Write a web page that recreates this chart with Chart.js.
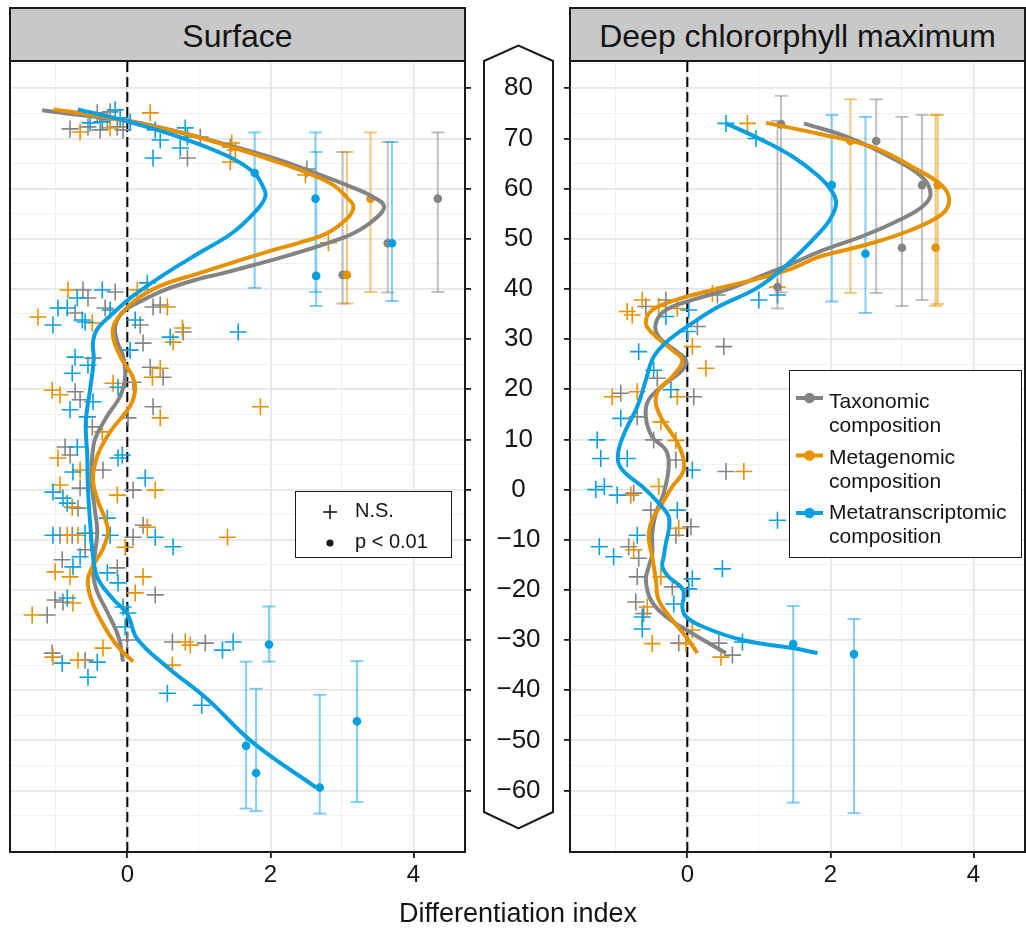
<!DOCTYPE html>
<html>
<head>
<meta charset="utf-8">
<title>Differentiation index</title>
<script src="https://cdn.jsdelivr.net/npm/chart.js@4.4.1/dist/chart.umd.min.js"></script>
<style>
html,body{margin:0;padding:0;background:#ffffff;}
#fig{position:relative;width:1026px;height:933px;overflow:hidden;font-family:"Liberation Sans",Arial,Helvetica,sans-serif;color:#141414;background:#fff;}
#fig canvas{position:absolute;left:0;top:0;z-index:2;}
#hex{position:absolute;left:0;top:0;z-index:1;}
.strip{position:absolute;top:7px;height:55px;box-sizing:border-box;border:2px solid #1a1a1a;background:#c8c8c8;font-size:32px;line-height:54px;text-align:center;z-index:3;white-space:nowrap;}
.lbox{position:absolute;box-sizing:border-box;border:1.5px solid #1a1a1a;background:#fff;z-index:3;}
#sym{position:absolute;left:0;top:0;z-index:4;}
.lt{position:absolute;z-index:5;white-space:nowrap;}
.lt20{font-size:20px;line-height:24px;}
.lt21{font-size:21px;line-height:24px;}
#xtitle{position:absolute;left:268px;width:500px;top:897px;font-size:27px;line-height:32px;text-align:center;z-index:5;}
</style>
</head>
<body>
<div id="fig">
  <svg id="hex" width="1026" height="933">
    <polygon points="484,61 518.5,45.5 553,61 553,812 518.5,828.5 484,812" fill="#fff" stroke="#1a1a1a" stroke-width="2"/>
  </svg>
  <canvas id="cL" width="1026" height="933"></canvas>
  <canvas id="cR" width="1026" height="933"></canvas>
  <div class="strip" style="left:9px;width:457px;">Surface</div>
  <div class="strip" style="left:569px;width:457px;">Deep chlororphyll maximum</div>
  <div class="lbox" style="left:295px;top:491px;width:157px;height:67px;"></div>
  <div class="lbox" style="left:789px;top:370px;width:233px;height:188px;"></div>
  <svg id="sym" width="1026" height="933"></svg>
  <div class="lt lt20" style="left:355px;top:498px;">N.S.</div>
  <div class="lt lt20" style="left:355px;top:529px;">p &lt; 0.01</div>
  <div class="lt lt21" style="left:829px;top:389px;">Taxonomic<br>composition</div>
  <div class="lt lt21" style="left:829px;top:444.5px;">Metagenomic<br>composition</div>
  <div class="lt lt21" style="left:829px;top:500px;">Metatranscriptomic<br>composition</div>
  <div id="xtitle">Differentiation index</div>
</div>
<script>
// ---------- styling constants ----------
const FONT = "'Liberation Sans', Arial, Helvetica, sans-serif";
const TEXT_COLOR = '#141414';
const COLORS = { tax: '#848484', metaG: '#E69100', metaT: '#079FE0' };
const BAR_COLORS = { tax: 'rgba(132,132,132,0.5)', metaG: 'rgba(230,145,0,0.5)', metaT: 'rgba(7,159,224,0.5)' };
const GRID_MAJOR = '#e6e6e6';
const GRID_MINOR = '#f0f0f0';

// ---------- axes ----------
const xLimits = [-1.64, 4.72];
const yLimits = [-72.25, 85.44];
const xTickValues = [-1, 0, 1, 2, 3, 4];
const xLabelValues = [0, 2, 4];
const yTickValues = [-65, -60, -55, -50, -45, -40, -35, -30, -25, -20, -15, -10, -5, 0, 5, 10, 15, 20, 25, 30, 35, 40, 45, 50, 55, 60, 65, 70, 75, 80, 85];
const yLabelValues = [80, 70, 60, 50, 40, 30, 20, 10, 0, -10, -20, -30, -40, -50, -60];
const zeroLineX = 0;

// ---------- Surface: smoothed curves [x, y] ----------
const surfaceTaxCurve = [[-1.19,75.6],[-0.5,74.4],[0,73.6],[0.8,71.0],[1.48,68.4],[2.1,65.8],[2.55,63.5],[3.1,60.5],[3.44,58.3],[3.59,56.4],[3.44,53.7],[3.16,51.1],[2.79,49.1],[2.3,46.9],[1.8,44.9],[1.3,43.0],[1.0,42.0],[0.56,40.0],[0.18,37.5],[-0.06,35.4],[-0.17,32.6],[-0.14,29.4],[-0.06,26.6],[-0.03,22.6],[-0.10,18.6],[-0.28,14.7],[-0.45,10.1],[-0.49,6.7],[-0.50,3.0],[-0.49,0.1],[-0.45,-4.5],[-0.42,-8.4],[-0.45,-12.4],[-0.48,-16.4],[-0.42,-20.4],[-0.28,-24.4],[-0.12,-29.5],[-0.06,-34.3]];
const surfaceMetaGCurve = [[-1.03,75.8],[-0.5,74.7],[0,73.4],[0.8,71.0],[1.48,68.2],[2.1,65.3],[2.52,63.1],[2.88,60.7],[3.07,58.2],[3.16,56.4],[3.07,54.0],[2.79,51.1],[2.4,49.2],[2.0,47.6],[1.5,45.4],[1.02,43.2],[0.46,40.6],[0.08,37.4],[-0.17,33.4],[-0.20,30.6],[-0.10,26.6],[0.07,22.6],[0.11,20.0],[0.04,16.7],[-0.24,11.5],[-0.42,6.7],[-0.48,2.1],[-0.42,-1.9],[-0.31,-5.9],[-0.27,-8.4],[-0.34,-11.8],[-0.48,-15.2],[-0.55,-17.8],[-0.52,-21.2],[-0.38,-25.8],[-0.14,-31.2],[0.08,-34.3]];
const surfaceMetaTCurve = [[-0.69,75.8],[0,73.4],[0.70,70.4],[1.40,66.5],[1.76,63.3],[1.90,60.3],[1.93,58.5],[1.82,55.9],[1.48,51.3],[1.02,47.3],[0.56,43.3],[0.08,38.6],[-0.24,34.6],[-0.42,32.0],[-0.48,29.4],[-0.47,26.0],[-0.52,20.0],[-0.58,13.5],[-0.56,6.7],[-0.55,0.1],[-0.52,-6.5],[-0.48,-13.2],[-0.41,-17.8],[-0.20,-21.8],[0,-24.8],[0.14,-29.8],[0.56,-35.4],[1.12,-41.8],[1.76,-50.5],[2.64,-59.4]];

// ---------- Surface: significant points [x, y, low, high] ----------
const surfaceTaxBars = [[3.01,42.8,37.1,67.3],[3.64,49.1,39.3,69.3],[4.34,58.0,39.4,71.2]];
const surfaceMetaGBars = [[3.07,42.8,37.1,67.3],[3.40,58.0,39.4,71.2]];
const surfaceMetaTBars = [[1.78,63.1,40.2,71.2],[2.63,58.0,39.4,71.2],[2.64,42.6,36.6,67.3],[3.70,49.1,37.6,69.3],[1.98,-30.9,-34.3,-23.3],[1.66,-51.1,-63.6,-34.3],[1.80,-56.5,-64.1,-39.7],[2.69,-59.4,-64.6,-40.9],[3.21,-46.2,-62.3,-34.2]];

// ---------- Surface: non-significant points [x, y] ----------
const surfaceTaxNS = [[-0.42,75.1],[-0.24,75.3],[-0.28,73.7],[-0.80,71.9],[-0.55,72.3],[-0.38,71.7],[-0.14,72.3],[-0.06,71.7],[1.02,70.3],[0.84,66.1],[1.44,68.3],[2.51,63.9],[-0.62,39.8],[-0.17,39.4],[-0.55,38.2],[-0.73,35.2],[-0.31,36.2],[0.36,36.4],[0.46,36.8],[0.18,32.8],[0.78,31.4],[0.22,29.2],[-0.48,26.2],[0.32,24.4],[0.50,22.4],[-0.73,19.5],[-0.66,17.9],[0.08,21.4],[0.36,16.5],[0.01,14.3],[-0.49,12.5],[-0.87,8.5],[-0.80,6.9],[-0.34,3.9],[-0.66,0.3],[-0.69,-3.7],[0.08,-0.1],[-0.94,-9.1],[-0.77,-9.1],[-0.52,-8.7],[0.08,-9.5],[0.22,-7.1],[-0.59,-12.0],[-0.91,-14.0],[-0.14,-15.6],[-0.90,-22.4],[-1.01,-22.0],[0.39,-21.0],[-1.12,-25.0],[0.63,-30.4],[1.09,-30.6],[0.00,-30.0],[-1.05,-32.6],[-0.59,-34.0]];
const surfaceMetaGNS = [[0.32,75.1],[-0.66,71.3],[-0.24,72.1],[1.51,67.7],[1.44,65.3],[1.46,69.1],[2.49,62.7],[-0.83,39.8],[0.14,39.8],[0.56,36.4],[-1.25,34.4],[-0.49,33.2],[0.77,32.2],[0.64,29.4],[0.46,24.2],[0.35,22.4],[-1.05,19.8],[-0.94,18.9],[-0.20,21.2],[0.46,14.3],[1.86,16.5],[-0.35,11.5],[-0.97,6.3],[-0.66,3.9],[-0.94,0.9],[-0.77,-3.5],[-0.14,-1.1],[0.39,-0.1],[-0.84,-9.1],[-0.69,-9.1],[-0.03,-11.5],[0.28,-7.5],[1.40,-9.5],[-1.01,-16.4],[-0.80,-17.4],[0.22,-17.4],[-0.76,-22.6],[0.11,-20.6],[-1.33,-25.0],[0.81,-30.4],[0.88,-31.0],[-0.34,-31.6],[-1.04,-33.4],[-0.69,-34.0],[0.63,-35.0],[2.81,49.2]];
const surfaceMetaTNS = [[-0.17,75.7],[-0.10,74.1],[-0.52,73.1],[-0.35,73.3],[0.04,73.3],[0.39,71.7],[0.46,69.7],[0.81,72.1],[0.84,70.3],[0.74,68.1],[0.36,66.1],[-0.35,39.8],[0.28,41.2],[-0.70,38.2],[-0.97,36.2],[-0.84,36.2],[-0.63,33.8],[-0.24,35.8],[-1.04,32.8],[-0.59,33.4],[0.11,33.8],[0.60,30.4],[1.55,31.4],[0.04,27.8],[-0.73,26.4],[-0.55,24.8],[-0.77,23.2],[-0.48,17.5],[-0.13,20.4],[-0.80,15.9],[-0.56,14.5],[-0.70,8.5],[-0.76,3.5],[-0.13,6.3],[-0.07,6.9],[-1.04,-0.5],[-0.90,-1.7],[-0.84,-2.7],[0.25,2.3],[-0.28,-5.7],[-1.04,-9.1],[-0.59,-8.7],[-0.24,-9.1],[0.39,-9.5],[0.64,-11.4],[-0.66,-13.4],[-0.76,-15.4],[-0.28,-16.6],[-0.13,-18.6],[-0.84,-21.6],[-0.06,-23.4],[0.01,-24.6],[-0.03,-27.4],[1.33,-32.0],[1.48,-30.4],[-0.91,-34.6],[-0.42,-34.4],[-0.55,-37.4],[0.56,-40.6],[1.04,-43.0]];

// ---------- Deep chlorophyll maximum: curves ----------
const dcmTaxCurve = [[1.63,73.0],[2.25,70.2],[2.85,66.2],[3.28,62.3],[3.40,59.0],[3.30,56.6],[3.0,54.0],[2.5,50.8],[1.84,47.4],[1.47,45.1],[1.0,42.4],[0.54,39.8],[0.07,37.8],[-0.30,35.8],[-0.44,33.2],[-0.40,30.5],[-0.12,27.2],[-0.02,25.8],[-0.07,23.8],[-0.30,21.2],[-0.54,17.9],[-0.58,14.5],[-0.49,10.5],[-0.30,7.9],[-0.26,4.6],[-0.33,-0.7],[-0.44,-4.7],[-0.49,-8.7],[-0.49,-12.7],[-0.54,-15.4],[-0.58,-18.0],[-0.51,-22.0],[-0.30,-25.3],[0.07,-28.7],[0.54,-32.6]];
const dcmMetaGCurve = [[1.10,73.1],[1.85,70.9],[2.60,68.2],[3.16,64.2],[3.56,60.6],[3.66,57.6],[3.55,54.8],[3.1,51.6],[2.5,48.8],[1.84,46.4],[1.47,44.1],[1.0,42.1],[0.35,39.8],[-0.16,37.8],[-0.49,35.8],[-0.58,33.2],[-0.49,31.2],[-0.21,27.8],[-0.07,25.8],[-0.21,22.5],[-0.40,19.9],[-0.44,17.2],[-0.35,13.9],[-0.16,9.9],[-0.05,5.9],[-0.07,3.2],[-0.21,0.6],[-0.35,-2.7],[-0.49,-6.0],[-0.54,-9.4],[-0.49,-13.4],[-0.44,-18.0],[-0.40,-22.0],[-0.21,-26.0],[-0.02,-29.3],[0.14,-32.6]];
const dcmMetaTCurve = [[0.54,73.0],[1.0,70.0],[1.47,66.4],[1.84,62.4],[2.02,59.5],[2.08,57.0],[2.0,54.0],[1.84,51.1],[1.47,45.8],[1.0,40.4],[0.44,36.5],[0.07,33.2],[-0.26,29.8],[-0.47,26.5],[-0.58,21.8],[-0.70,16.5],[-0.86,11.9],[-0.96,7.9],[-0.96,5.2],[-0.86,3.2],[-0.63,0.6],[-0.40,-2.7],[-0.26,-5.4],[-0.26,-8.1],[-0.30,-10.7],[-0.33,-13.4],[-0.35,-15.4],[-0.26,-17.4],[-0.07,-19.7],[-0.05,-21.4],[-0.07,-23.4],[-0.02,-25.3],[0.21,-27.3],[0.77,-30.0],[1.47,-31.6],[1.82,-32.6]];

// ---------- Deep chlorophyll maximum: significant points [x, y, low, high] ----------
const dcmTaxBars = [[1.31,72.8,39.3,78.5],[1.26,40.4,36.1,73.5],[2.64,69.5,39.2,77.8],[3.00,48.2,36.6,74.3],[3.28,60.7,37.8,74.7]];
const dcmMetaGBars = [[2.28,69.5,39.2,77.8],[3.50,60.7,37.0,74.7],[3.47,48.2,36.6,74.7]];
const dcmMetaTBars = [[2.02,60.7,37.5,74.7],[2.49,47.0,35.2,74.3],[1.48,-30.8,-62.4,-23.2],[2.33,-32.8,-64.5,-25.8]];

// ---------- Deep chlorophyll maximum: non-significant points ----------
const dcmTaxNS = [[0.42,38.8],[-0.58,36.5],[-0.30,37.8],[0.14,32.5],[0.51,28.5],[-0.42,22.2],[-0.93,19.2],[0.09,18.5],[-0.70,14.5],[-0.47,9.9],[-0.16,5.9],[0.54,3.6],[-0.75,-0.7],[-0.51,-4.1],[0.05,-7.4],[-0.16,-9.1],[-0.82,-11.4],[-0.68,-13.7],[-0.70,-17.4],[-0.21,-19.4],[-0.72,-22.4],[-0.61,-24.7],[-0.12,-30.6],[0.44,-30.6],[0.63,-33.0]];
const dcmMetaGNS = [[0.84,73.0],[0.35,39.1],[1.26,40.4],[-0.63,37.8],[-0.84,35.5],[-0.77,34.8],[-0.40,36.5],[-0.14,36.1],[0.07,28.5],[0.26,24.2],[-1.05,18.5],[-0.70,19.5],[-0.14,18.5],[-0.37,13.5],[-0.16,9.8],[0.79,3.6],[-0.79,-1.1],[-0.40,0.6],[-0.12,-7.7],[-0.75,-12.0],[-0.37,-17.4],[-0.56,-23.4],[0.07,-28.0],[-0.49,-30.7],[-0.02,-30.7],[0.47,-33.4]];
const dcmMetaTNS = [[0.54,73.0],[0.96,70.0],[1.00,37.8],[1.26,38.8],[0.02,35.8],[0.00,31.5],[-0.30,34.5],[-0.68,27.5],[-0.47,23.8],[-0.23,19.9],[-0.93,14.2],[-1.26,9.9],[-1.21,6.2],[-0.84,6.2],[0.07,3.9],[-1.28,0.0],[-1.16,0.6],[-0.98,-1.1],[-0.14,-4.1],[1.26,-6.1],[-0.70,-9.1],[-1.23,-11.4],[-1.03,-13.4],[0.49,-15.8],[0.07,-17.8],[0.02,-19.8],[-0.19,-22.8],[-0.63,-25.4],[-0.63,-27.8],[0.77,-30.4]];

// ---------- dataset builders ----------
const pts = arr => arr.map(([x, y]) => ({ x, y }));
function curveSet(arr, color, order) {
  return { data: pts(arr), showLine: true, tension: 0.4, pointRadius: 0, pointHoverRadius: 0,
           borderColor: color, borderWidth: 4, fill: false, order };
}
function barSet(bars, color, order) {
  const d = [];
  bars.forEach(([x, , lo, hi]) => { d.push({ x, y: lo }, { x, y: hi }, { x, y: null }); });
  return { data: d, showLine: true, spanGaps: false, tension: 0, borderColor: color, borderWidth: 2,
           pointStyle: 'line', pointRadius: 6.5, pointHoverRadius: 6.5, pointBorderWidth: 2,
           pointBorderColor: color, pointBackgroundColor: color, fill: false, order };
}
function dotSet(bars, color, order) {
  return { data: bars.map(([x, y]) => ({ x, y })), showLine: false, pointStyle: 'circle',
           pointRadius: 4.3, pointHoverRadius: 4.3, pointBackgroundColor: color, pointBorderWidth: 0,
           borderColor: color, order };
}
function crossSet(arr, color, order) {
  return { data: pts(arr), showLine: false, pointStyle: 'cross', pointRadius: 8.5, pointHoverRadius: 8.5,
           pointBorderWidth: 1.6, pointBorderColor: color, borderColor: color, backgroundColor: color, order };
}
function zeroSet() {
  return { data: [{ x: zeroLineX, y: yLimits[0] }, { x: zeroLineX, y: yLimits[1] }], showLine: true,
           borderColor: '#000', borderWidth: 2, borderDash: [10, 5], pointRadius: 0, pointHoverRadius: 0,
           tension: 0, order: 20 };
}
function panelDatasets(c, b, ns) {
  return [
    curveSet(c.metaT, COLORS.metaT, 0), curveSet(c.metaG, COLORS.metaG, 1), curveSet(c.tax, COLORS.tax, 2),
    dotSet(b.metaT, COLORS.metaT, 3), dotSet(b.metaG, COLORS.metaG, 4), dotSet(b.tax, COLORS.tax, 5),
    barSet(b.metaT, BAR_COLORS.metaT, 6), barSet(b.metaG, BAR_COLORS.metaG, 7), barSet(b.tax, BAR_COLORS.tax, 8),
    crossSet(ns.metaT, COLORS.metaT, 9), crossSet(ns.metaG, COLORS.metaG, 10), crossSet(ns.tax, COLORS.tax, 11),
    zeroSet()
  ];
}

// ---------- plugins / layout ----------
const frame = {
  id: 'frame',
  afterDatasetsDraw(chart) {
    const { ctx, chartArea: a } = chart;
    ctx.save();
    ctx.strokeStyle = '#1a1a1a';
    ctx.lineWidth = 2;
    ctx.strokeRect(a.left, a.top, a.right - a.left, a.bottom - a.top);
    ctx.restore();
  }
};
const Y_FONT = 26, X_FONT = 24, Y_AXIS_W = 90, X_AXIS_H = 40, TICK_LEN = 6;
const yLabel = v => (v < 0 ? '\u2212' + (-v) : String(v));
const mctx = document.createElement('canvas').getContext('2d');
mctx.font = Y_FONT + 'px ' + FONT;
const widestY = Math.max(...yLabelValues.map(v => mctx.measureText(yLabel(v)).width));
const yLabelCenter = 518.5;
const leftPlotRight = 465;
const noPad = s => { s.paddingLeft = 0; s.paddingRight = 0; s.paddingTop = 0; s.paddingBottom = 0; };

function makeChart(id, datasets, isLeft) {
  const padding = isLeft
    ? { left: 10, top: 61, right: 1026 - leftPlotRight - Y_AXIS_W, bottom: 933 - 852 - X_AXIS_H }
    : { left: 570 - TICK_LEN, top: 61, right: 1, bottom: 933 - 852 - X_AXIS_H };
  return new Chart(document.getElementById(id), {
    type: 'scatter',
    data: { datasets },
    options: {
      responsive: false, animation: false, devicePixelRatio: 1, events: [],
      layout: { padding, autoPadding: false },
      plugins: { legend: { display: false }, tooltip: { enabled: false } },
      scales: {
        x: {
          type: 'linear', min: xLimits[0], max: xLimits[1],
          afterBuildTicks: s => { s.ticks = xTickValues.map(v => ({ value: v })); },
          afterFit: s => { s.height = X_AXIS_H; noPad(s); },
          border: { display: false },
          grid: {
            drawTicks: true, tickLength: TICK_LEN,
            color: c => (c.tick && c.tick.value % 2 === 0) ? GRID_MAJOR : GRID_MINOR,
            lineWidth: c => (c.tick && c.tick.value % 2 === 0) ? 1.8 : 1.1,
            tickColor: c => (c.tick && xLabelValues.includes(c.tick.value)) ? '#1a1a1a' : 'rgba(0,0,0,0)',
            tickWidth: 1.8
          },
          ticks: {
            autoSkip: false, maxRotation: 0, minRotation: 0, padding: 3, color: TEXT_COLOR,
            font: { family: FONT, size: X_FONT },
            callback: v => (xLabelValues.includes(v) ? String(v) : '')
          }
        },
        y: {
          type: 'linear', position: isLeft ? 'right' : 'left', min: yLimits[0], max: yLimits[1],
          afterBuildTicks: s => { s.ticks = yTickValues.map(v => ({ value: v })); },
          afterFit: s => { s.width = isLeft ? Y_AXIS_W : TICK_LEN; noPad(s); },
          border: { display: false },
          grid: {
            drawTicks: true, tickLength: TICK_LEN,
            color: c => (c.tick && c.tick.value % 10 === 0) ? GRID_MAJOR : GRID_MINOR,
            lineWidth: c => (c.tick && c.tick.value % 10 === 0) ? 1.8 : 1.1,
            tickColor: c => (c.tick && yLabelValues.includes(c.tick.value)) ? '#1a1a1a' : 'rgba(0,0,0,0)',
            tickWidth: 1.8
          },
          ticks: {
            display: isLeft, autoSkip: false, crossAlign: 'center', color: TEXT_COLOR,
            padding: yLabelCenter - leftPlotRight - TICK_LEN - widestY / 2,
            font: { family: FONT, size: Y_FONT },
            callback: v => (yLabelValues.includes(v) ? yLabel(v) : '')
          }
        }
      }
    },
    plugins: [frame]
  });
}

makeChart('cL', panelDatasets(
  { tax: surfaceTaxCurve, metaG: surfaceMetaGCurve, metaT: surfaceMetaTCurve },
  { tax: surfaceTaxBars, metaG: surfaceMetaGBars, metaT: surfaceMetaTBars },
  { tax: surfaceTaxNS, metaG: surfaceMetaGNS, metaT: surfaceMetaTNS }), true);
makeChart('cR', panelDatasets(
  { tax: dcmTaxCurve, metaG: dcmMetaGCurve, metaT: dcmMetaTCurve },
  { tax: dcmTaxBars, metaG: dcmMetaGBars, metaT: dcmMetaTBars },
  { tax: dcmTaxNS, metaG: dcmMetaGNS, metaT: dcmMetaTNS }), false);

// ---------- legend symbols ----------
const NS = 'http://www.w3.org/2000/svg';
const sym = document.getElementById('sym');
function el(tag, attrs) { const e = document.createElementNS(NS, tag); for (const k in attrs) e.setAttribute(k, attrs[k]); sym.appendChild(e); }
el('line', { x1: 323, y1: 512, x2: 337, y2: 512, stroke: '#1a1a1a', 'stroke-width': 1.6 });
el('line', { x1: 330, y1: 505, x2: 330, y2: 519, stroke: '#1a1a1a', 'stroke-width': 1.6 });
el('circle', { cx: 330, cy: 543, r: 3.6, fill: '#1a1a1a' });
const legendKeys = [[COLORS.tax, 398], [COLORS.metaG, 455.5], [COLORS.metaT, 513]];
legendKeys.forEach(([c, y]) => {
  el('line', { x1: 796, y1: y, x2: 823, y2: y, stroke: c, 'stroke-width': 4 });
  el('circle', { cx: 809.5, cy: y, r: 5.3, fill: c });
});
</script>
</body>
</html>
